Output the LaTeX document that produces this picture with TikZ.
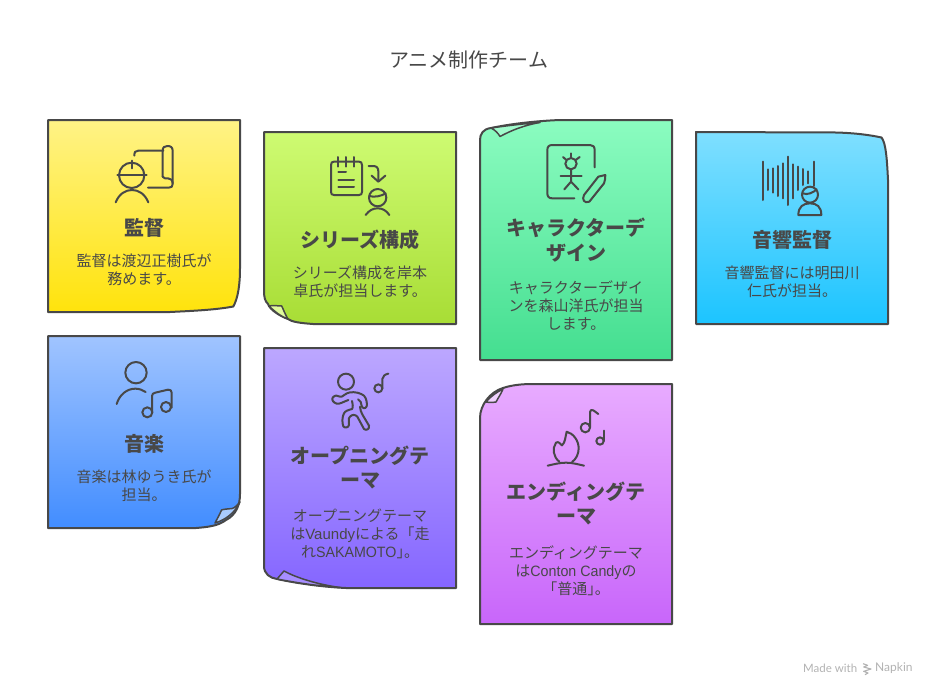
\documentclass[tikz,border=0pt]{standalone}
\usepackage{fontspec}
\setmainfont{Noto Sans CJK JP}
\newfontfamily\pal[RawFeature=+halt]{Noto Sans CJK JP}
\newfontfamily\lat{Liberation Sans}
\newfontfamily\latn[FakeStretch=0.95]{Liberation Sans}
\newfontfamily\wm{Lato}
\definecolor{ink}{HTML}{484848}
\definecolor{yA}{HTML}{FFF386}\definecolor{yB}{HTML}{FFE30C}
\definecolor{lA}{HTML}{CEFB72}\definecolor{lB}{HTML}{A8DD35}\definecolor{lF}{HTML}{E0FA9C}
\definecolor{gA}{HTML}{8BFCC0}\definecolor{gB}{HTML}{44DE90}\definecolor{gF}{HTML}{A0FCCC}
\definecolor{cA}{HTML}{7FDFFF}\definecolor{cB}{HTML}{1CC4FF}
\definecolor{bA}{HTML}{A0C4FF}\definecolor{bB}{HTML}{428DFF}\definecolor{bF}{HTML}{A8CBFF}
\definecolor{pA}{HTML}{BCA7FF}\definecolor{pB}{HTML}{8566FF}\definecolor{pF}{HTML}{A78EFF}
\definecolor{vA}{HTML}{E8ABFF}\definecolor{vB}{HTML}{C866FA}\definecolor{vF}{HTML}{F1D2FF}
\tikzset{
  card/.style n args={2}{draw=ink,line width=2pt,line join=round,top color=#1,bottom color=#2},
  foldmark/.style={draw=ink,line width=1.5pt,line join=round},
  ico/.style={draw=ink,line width=2pt,line cap=round,line join=round},
  ttl/.style={text=ink,font=\fontsize{20}{24}\selectfont,inner sep=0pt},
  hd/.style={text=ink,font=\fontsize{20}{24.5}\selectfont\bfseries,align=center,inner sep=0pt},
  bd/.style={text=ink,font=\fontsize{15}{18}\selectfont,align=center,inner sep=0pt},
  wmk/.style={text=black!30,font=\wm\fontsize{11.5}{13}\selectfont,inner sep=0pt,anchor=west}
}
\begin{document}
\begin{tikzpicture}[x=1pt,y=-1pt]
\useasboundingbox (0,0) rectangle (936,696);
% cards
\path[card={yA}{yB}] (48,120) -- (240,120) -- (240,268) .. controls (240,285) and (238,298) .. (233.3,306.5) .. controls (215,310) and (190,311) .. (170,312) -- (48,312) -- cycle;
\path[card={lA}{lB}] (264,132) -- (456,132) -- (456,324) -- (313,324) .. controls (300,323) and (292,322) .. (288,319) .. controls (280,316) and (270,310) .. (268,304) .. controls (265,301) and (264,298) .. (264,290) -- cycle;
\path[foldmark,fill=lF] (269,306) .. controls (273,305) and (278,306) .. (281.7,306) .. controls (284,311) and (286,316) .. (288,319) .. controls (280,316) and (274,311) .. (269,306) -- cycle;
\path[card={gA}{gB}] (560,120) -- (672,120) -- (672,360) -- (480,360) -- (480,140) .. controls (480,134) and (483,129) .. (491,128) .. controls (510,124) and (535,121) .. (560,120) -- cycle;
\path[foldmark,fill=gF] (491,128) .. controls (495,130) and (498,133) .. (500,136.5) .. controls (512,130) and (525,125) .. (540,122.5) .. controls (525,123.5) and (505,126) .. (491,128) -- cycle;
\path[card={cA}{cB}] (696,132) -- (836,132.5) .. controls (855,133) and (870,135) .. (881.5,137.5) .. controls (886,143) and (887,160) .. (888,180) -- (888,324) -- (696,324) -- cycle;
\path[card={bA}{bB}] (48,336) -- (240,336) -- (240,494) .. controls (240,505) and (236,515) .. (226,520) .. controls (218,526) and (208,527) .. (196,528) -- (48,528) -- cycle;
\path[foldmark,fill=bF] (240,502) .. controls (237,505) and (235,508) .. (232,508.5) .. controls (228,509) and (224,509) .. (221.5,510) .. controls (220,514) and (217,519) .. (215,523) .. controls (225,520) and (235,513) .. (240,502) -- cycle;
\path[card={pA}{pB}] (264,348) -- (456,348) -- (456,588) -- (346,588) .. controls (325,587) and (300,584) .. (277,579) .. controls (270,578) and (264,574) .. (264,566) -- cycle;
\path[foldmark,fill=pF] (277,579) -- (284,571) .. controls (295,577) and (315,584) .. (340,587.5) .. controls (318,586) and (298,583) .. (277,579) -- cycle;
\path[card={vA}{vB}] (533,384) -- (672,384) -- (672,624) -- (480,624) -- (480,418) .. controls (480,405) and (490,392) .. (503,388) .. controls (512,385) and (522,384) .. (533,384) -- cycle;
\path[foldmark,fill=vF] (486,402) .. controls (489,402.5) and (493,402.5) .. (496,402) .. controls (498,398) and (501,394) .. (503,389) .. controls (497,392) and (491,396) .. (486,402) -- cycle;
% icon 1
\begin{scope}[shift={(30,110)},scale=1/3]
\draw[ico] (305,196) circle (38);
\draw[ico] (262,196) -- (350,196);
\draw[ico] (305,152) -- (305,175);
\draw[ico] (257,277) .. controls (268,250) and (288,240) .. (306,240) .. controls (324,240) and (344,250) .. (355,277);
\draw[ico] (313,137) .. controls (313,126) and (316,122) .. (325,122) -- (400,122);
\draw[ico] (398,200) -- (398,122) .. controls (398,112) and (403,108) .. (412,108) .. controls (422,108) and (428,112) .. (428,122) -- (428,222) .. controls (428,230) and (424,233) .. (416,233) -- (354,233);
\draw[ico] (398,200) .. controls (400,206) and (408,205) .. (414,205) .. controls (422,205) and (427,210) .. (428,220);
\end{scope}
% icon 2
\begin{scope}[shift={(30,110)},scale=1/3]
\draw[ico] (903,165) .. controls (903,158) and (906,155) .. (912,155) -- (987,155) .. controls (993,155) and (996,158) .. (996,165) -- (996,246) .. controls (996,252) and (993,255) .. (987,255) -- (912,255) .. controls (906,255) and (903,252) .. (903,246) -- cycle;
\foreach \q in {925,948,972}{\draw[ico] (\q,141) -- (\q,170);}
\draw[ico] (925,187) -- (948,187);
\draw[ico] (925,209) -- (972,209);
\draw[ico] (925,232) -- (972,232);
\draw[ico] (1016,168) -- (1030,168) .. controls (1040,168) and (1045,174) .. (1045,184) -- (1045,214);
\draw[ico] (1025,197) -- (1045,215) -- (1066,197);
\draw[ico] (1043,263) circle (26);
\draw[ico] (1018,258) .. controls (1032,263) and (1055,258) .. (1067,250);
\draw[ico] (1007,315) .. controls (1018,300) and (1030,295) .. (1043,295) .. controls (1056,295) and (1068,300) .. (1078,315);
\end{scope}
% icon 3
\begin{scope}[shift={(470,110)},scale=1/3]
\draw[ico] (374,172) -- (374,120) .. controls (374,110) and (369,105) .. (360,105) -- (247,105) .. controls (237,105) and (232,110) .. (232,120) -- (232,250) .. controls (232,260) and (237,265) .. (247,265) -- (313,265);
\draw[ico] (303,161) circle (17);
\draw[ico] (303,130) -- (303,143);
\draw[ico] (279,141) -- (289,150);
\draw[ico] (329,141) -- (317,150);
\draw[ico] (303,178) -- (303,215) -- (283,238);
\draw[ico] (303,215) -- (325,238);
\draw[ico] (272,199) -- (335,199);
\draw[ico] (406,195) -- (385,200) -- (342,255) .. controls (335,268) and (343,282) .. (358,275) -- (402,220) .. controls (405,212) and (406,205) .. (406,195) -- cycle;
\end{scope}
% icon 4
\begin{scope}[shift={(470,110)},scale=1/3]
\draw[ico] (880,155) -- (880,270);
\draw[ico] (895,178) -- (895,240);
\draw[ico] (910,175) -- (910,248);
\draw[ico] (925,168) -- (925,258);
\draw[ico] (940,160) -- (940,265);
\draw[ico] (955,140) -- (955,285);
\draw[ico] (970,163) -- (970,265);
\draw[ico] (985,170) -- (985,240);
\draw[ico] (1000,177) -- (1000,225);
\draw[ico] (1015,184) -- (1015,220);
\draw[ico] (1031,155) -- (1031,228);
\draw[ico] (1020,254) circle (24);
\draw[ico] (998,250) .. controls (1012,256) and (1030,248) .. (1040,238);
\draw[ico] (985,315) .. controls (985,290) and (1000,280) .. (1020,280) .. controls (1040,280) and (1054,290) .. (1054,315) -- cycle;
\end{scope}
% icon 5
\begin{scope}[shift={(30,330)},scale=1/3]
\draw[ico] (318,128) circle (32);
\draw[ico] (260,222) .. controls (268,195) and (290,176) .. (316,176) .. controls (328,176) and (338,180) .. (347,186);
\draw[ico] (352,247) circle (15);
\draw[ico] (408,231) circle (15);
\draw[ico] (366,247) -- (366,198) .. controls (366,192) and (370,189) .. (376,188) -- (414,179) .. controls (421,178) and (425,182) .. (425,188) -- (425,233);
\end{scope}
% icon 6
\begin{scope}[shift={(320,365)},scale=1/3]
\draw[ico] (78,50) circle (24);
\draw[ico] (85,105) .. controls (70,110) and (60,118) .. (50,116) .. controls (40,113) and (34,104) .. (38,98) .. controls (44,90) and (52,90) .. (60,95) .. controls (66,99) and (75,84) .. (90,82) .. controls (105,80) and (122,84) .. (132,92) .. controls (140,100) and (142,118) .. (140,124) .. controls (137,132) and (127,131) .. (125,123) .. controls (124,115) and (122,105) .. (114,103);
\draw[ico] (96,108) .. controls (98,118) and (100,128) .. (96,132) .. controls (85,135) and (75,138) .. (72,145) .. controls (66,155) and (66,175) .. (70,184) .. controls (74,190) and (86,188) .. (87,180) .. controls (87,170) and (84,160) .. (90,155) .. controls (96,148) and (106,148) .. (112,155) -- (132,192) .. controls (138,198) and (150,192) .. (147,182) -- (128,150) .. controls (124,142) and (120,135) .. (120,125);
\draw[ico] (175,70) circle (12);
\draw[ico] (187,70) -- (187,42) .. controls (188,33) and (195,28) .. (205,26);
\end{scope}
% icon 7
\begin{scope}[shift={(540,400)},scale=1/3]
\draw[ico] (23,197) .. controls (40,193) and (60,188) .. (78,188) .. controls (96,188) and (115,193) .. (132,197);
\draw[ico] (58,185) .. controls (40,172) and (36,145) .. (48,128) .. controls (56,122) and (62,134) .. (66,136) .. controls (76,128) and (76,110) .. (80,95) .. controls (100,100) and (116,122) .. (116,145) .. controls (116,162) and (108,178) .. (96,186);
\draw[ico] (136,83) circle (14);
\draw[ico] (150,83) -- (150,36) .. controls (150,30) and (155,28) .. (160,31) -- (175,42);
\draw[ico] (180,123) circle (11);
\draw[ico] (191,123) -- (191,92);
\end{scope}
% napkin mark
\begin{scope}[shift={(795,655)},scale=1/3]
\draw[draw=black!30,line width=1.1pt,line join=round] (204,26) -- (218,31) -- (206,36) -- (228,42) -- (206,49) -- (219,54) -- (210,59);
\end{scope}
% texts
\node[ttl] (title) at (468.5,59.5) {アニメ制作チーム};
\node[hd] (h1) at (144,227.5) {監督};
\node[bd] (b1) at (144,270) {監督は渡辺正樹氏が\\務めます。};
\node[hd] (h2) at (360,239.5) {シリーズ構成};
\node[bd] (b2) at (360,282) {シリーズ構成を岸本\\卓氏が担当します。};
\node[hd] (h3) at (576,240) {キャラクターデ\\ザイン};
\node[bd] (b3) at (576,305.5) {キャラクターデザイ\\ンを森山洋氏が担当\\します。};
\node[hd] (h4) at (792,239.5) {音響監督};
\node[bd] (b4) at (792,282) {音響監督には明田川\\仁氏が担当。};
\node[hd] (h5) at (144,444) {音楽};
\node[bd] (b5) at (144,486) {音楽は林ゆうき氏が\\担当。};
\node[hd] (h6) at (360,467.5) {オープニングテ\\ーマ};
\node[bd] (b6) at (360,534) {オープニングテーマ\\は{\lat Vaundy}による「走\\れ{\latn SAKAMOTO}{\pal 」}。};
\node[hd] (h7) at (576,503.5) {エンディングテ\\ーマ};
\node[bd] (b7) at (576,570.5) {エンディングテーマ\\は{\latn Conton Candy}の\\「普通{\pal 」}。};
\node[wmk] (w1) at (803,668) {Made with};
\node[wmk,font=\wm\fontsize{12}{13}\selectfont] (w2) at (875,668) {Napkin};
\end{tikzpicture}
\end{document}
